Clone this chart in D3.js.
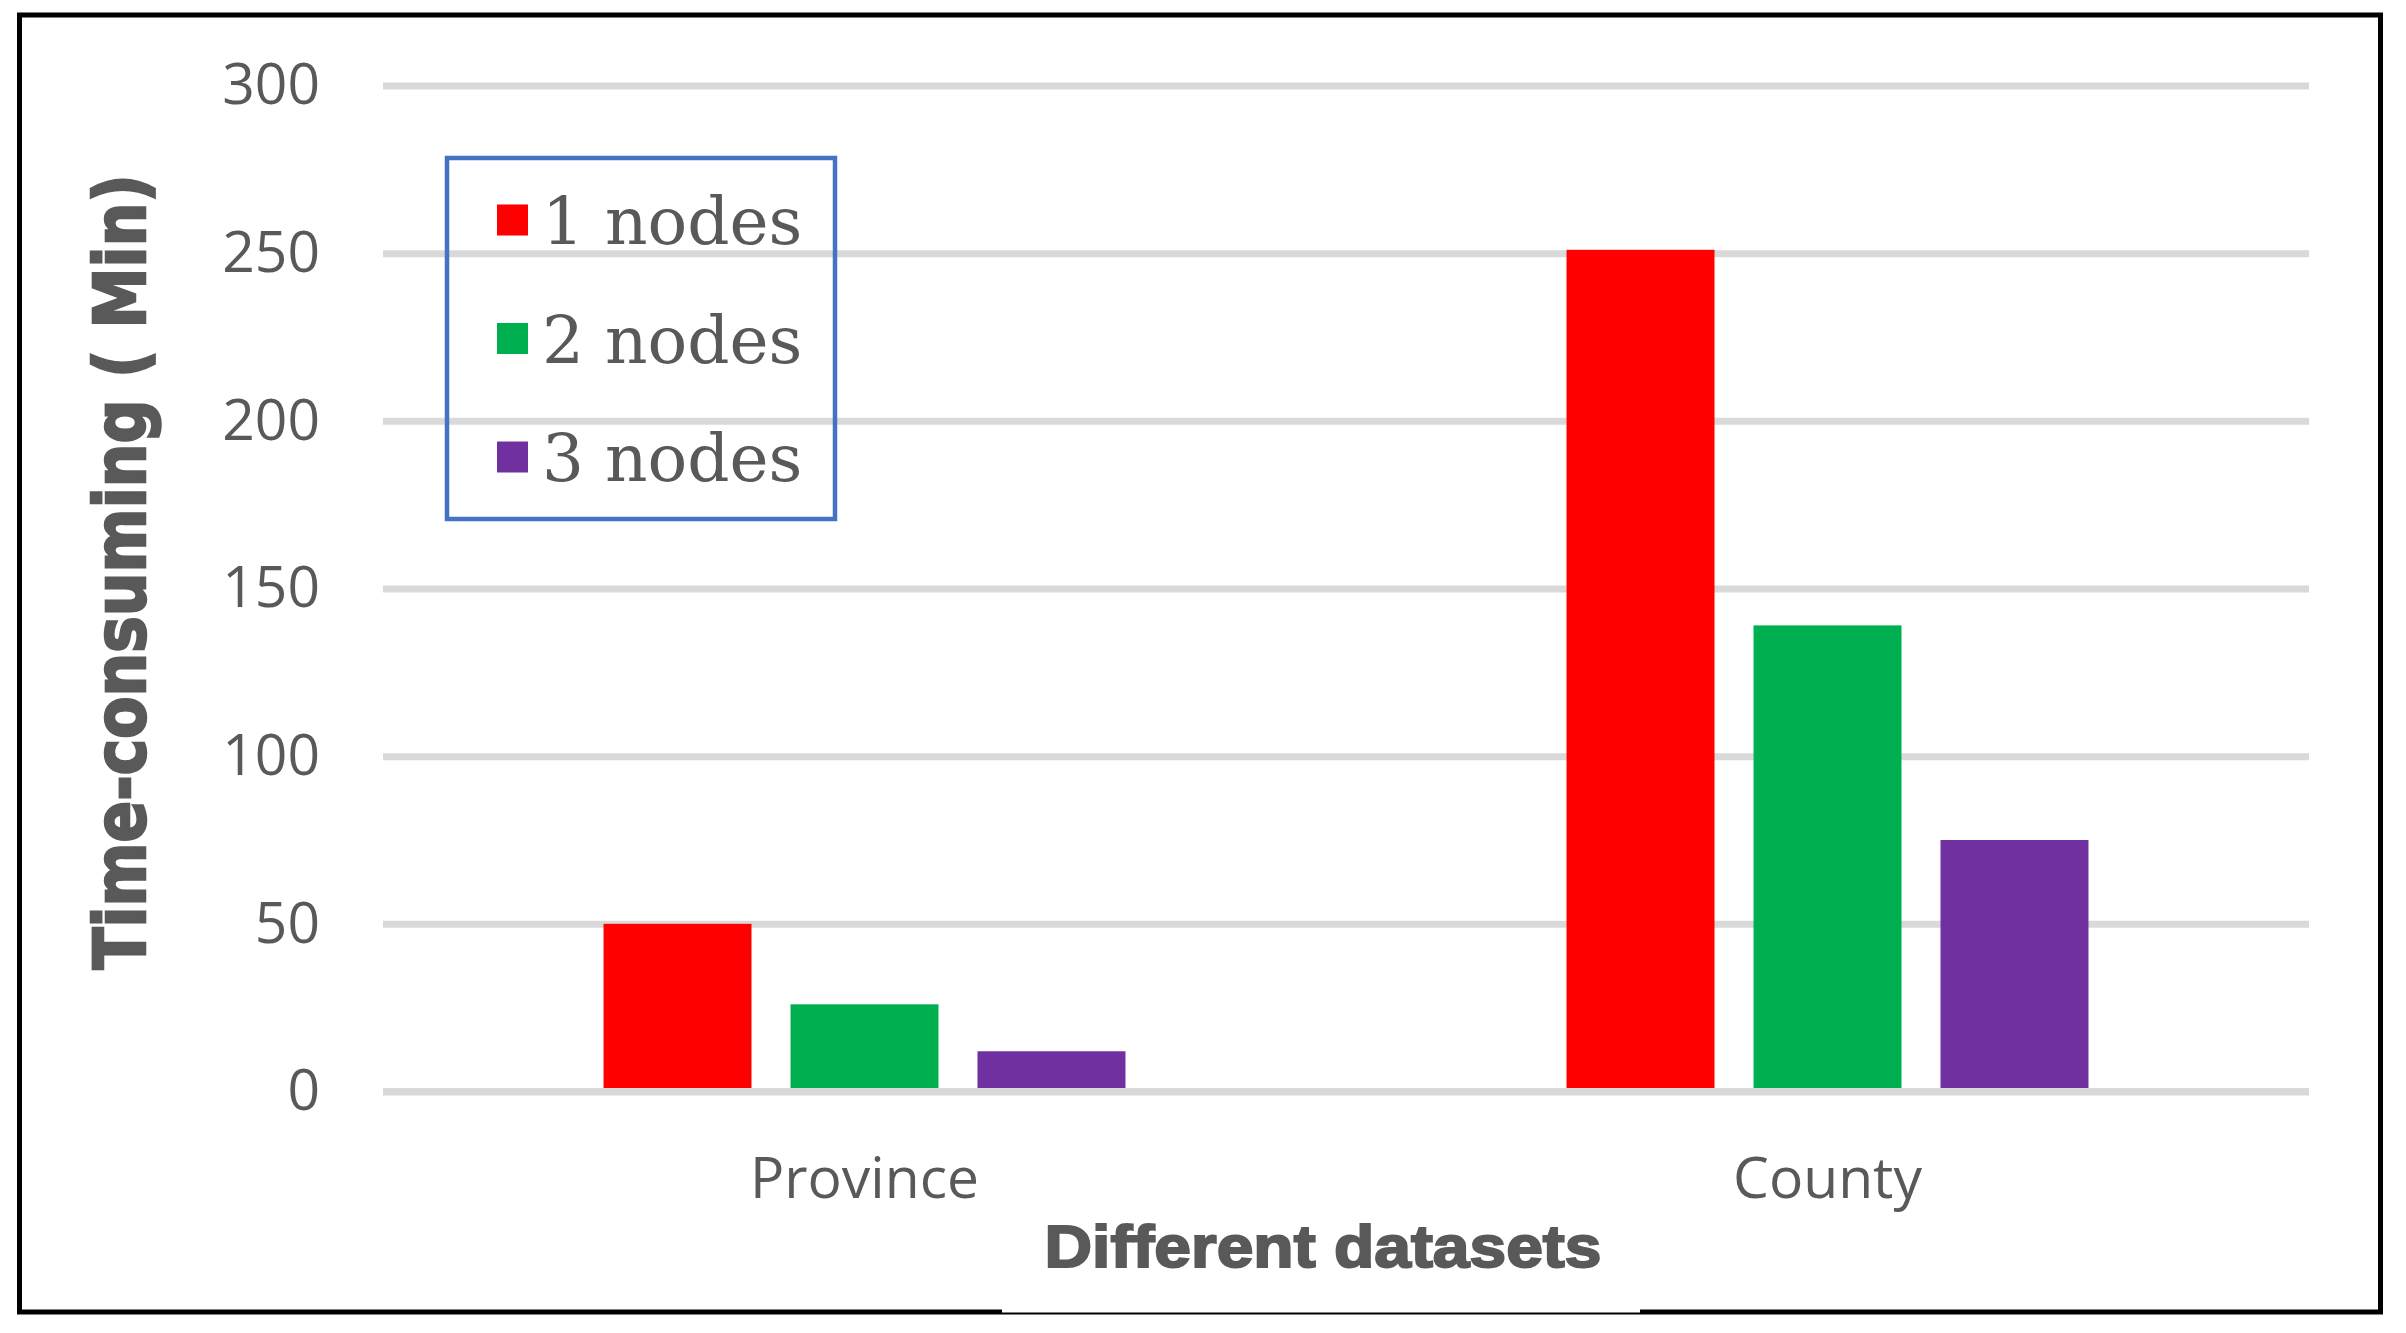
<!DOCTYPE html>
<html>
<head>
<meta charset="utf-8">
<script src="https://cdn.jsdelivr.net/npm/d3@7"></script>
<style>
  body { margin: 0; background: #fff; }
</style>
</head>
<body>
<div id="chart"></div>
<script>

// chart data
var categories = ["Province", "County"];
var seriesNames = ["1 nodes", "2 nodes", "3 nodes"];
var seriesColors = ["#ff0000", "#00b050", "#7030a0"];
var nodes1 = [50, 251];
var nodes2 = [26, 139];
var nodes3 = [12, 75];
var yTicks = [0, 50, 100, 150, 200, 250, 300];
var yTitle = "Time-consuming ( Min)";
var xTitle = "Different datasets";

BarChart = function(container){

    var self = this;

    this.container = container;
    this.series = [nodes1, nodes2, nodes3];

    this.config = {
        full_width: 2406,
        full_height: 1333,
        margin: {left: 383, right: 97, top: 85.5, bottom: 241.5},
        text_color: "#595959",
        grid_color: "#d9d9d9",
        legend_color: "#4472c4"
    };

    this._init();

};

BarChart.prototype._init = function(){

    this._build_graph();
    this._draw_all();

};

BarChart.prototype._draw_all = function(){

    this._draw_y_axis();
    this._draw_bars();
    this._draw_zero_line();
    this._draw_x_axis();
    this._draw_titles();
    this._draw_legend();

};

BarChart.prototype._build_graph = function(){

    var config = this.config;

    this.width = config.full_width - config.margin.left - config.margin.right;
    this.height = config.full_height - config.margin.top - config.margin.bottom;

    this._svg = d3.select(this.container)
        .append("svg")
        .attr("width", config.full_width)
        .attr("height", config.full_height)
        .style("display", "block");

    // frame goes in first so everything else sits on top of it
    this._draw_frame();

    this._chart = this._svg
        .append("g")
        .attr("transform", "translate(" + config.margin.left + "," + config.margin.top + ")");

    this.x0 = d3.scaleBand()
        .domain(categories)
        .range([0, this.width])
        .paddingInner(0.458)
        .paddingOuter(0.229);

    this.x1 = d3.scaleBand()
        .domain(d3.range(seriesNames.length))
        .range([0, this.x0.bandwidth()])
        .paddingInner(0.2086);

    this.y = d3.scaleLinear()
        .domain([0, 300])
        .range([this.height, 0]);

};

BarChart.prototype._draw_frame = function(){

    this._svg.append("rect")
        .attr("x", 19.5)
        .attr("y", 15)
        .attr("width", 2361)
        .attr("height", 1297)
        .style("fill", "white")
        .style("stroke", "black")
        .style("stroke-width", 5);

    // white strip that breaks the bottom border under the x title
    this._svg.append("rect")
        .attr("x", 1002)
        .attr("y", 1305)
        .attr("width", 638)
        .attr("height", 7.5)
        .style("fill", "white");

};

BarChart.prototype._draw_y_axis = function(){

    var self = this;

    var axis = d3.axisLeft(this.y)
        .tickValues(yTicks)
        .tickSize(-this.width)
        .tickPadding(63);

    var g = this._chart.append("g")
        .attr("class", "y-axis")
        .call(axis);

    g.select(".domain").remove();

    g.selectAll(".tick line")
        .style("stroke", self.config.grid_color)
        .style("stroke-width", 7);

    g.selectAll(".tick text")
        .style("font-family", "'Open Sans', sans-serif")
        .style("font-size", "57px")
        .style("fill", self.config.text_color);

};

BarChart.prototype._draw_bars = function(){

    var self = this;

    var groups = this._chart.selectAll(".group")
        .data(categories)
        .enter()
        .append("g")
        .attr("class", "group")
        .attr("transform", function(d){ return "translate(" + self.x0(d) + ",0)"; });

    groups.selectAll("rect")
        .data(function(d, i){
            return self.series.map(function(s, k){ return {k: k, v: s[i]}; });
        })
        .enter()
        .append("rect")
        .attr("x", function(d){ return self.x1(d.k); })
        .attr("y", function(d){ return self.y(d.v); })
        .attr("width", self.x1.bandwidth())
        .attr("height", function(d){ return self.y(0) - self.y(d.v); })
        .style("fill", function(d){ return seriesColors[d.k]; });

};

BarChart.prototype._draw_zero_line = function(){

    this._chart.append("line")
        .attr("x1", 0)
        .attr("x2", this.width)
        .attr("y1", this.y(0))
        .attr("y2", this.y(0))
        .style("stroke", this.config.grid_color)
        .style("stroke-width", 7);

};

BarChart.prototype._draw_x_axis = function(){

    var self = this;

    var axis = d3.axisBottom(this.x0)
        .tickSize(0)
        .tickPadding(66);

    var g = this._chart.append("g")
        .attr("class", "x-axis")
        .attr("transform", "translate(0," + this.y(0) + ")")
        .call(axis);

    g.select(".domain").remove();

    g.selectAll(".tick text")
        .style("font-family", "'Open Sans', sans-serif")
        .style("font-size", "57px")
        .style("fill", self.config.text_color);

};

BarChart.prototype._draw_titles = function(){

    var cs = this.config;

    // the titles in the source are a heavy black weight, thicken with a stroke
    this._svg.append("text")
        .attr("transform", "translate(145,572) rotate(-90)")
        .attr("text-anchor", "middle")
        .attr("textLength", 795)
        .attr("lengthAdjust", "spacingAndGlyphs")
        .style("font-family", "'DejaVu Sans', sans-serif")
        .style("font-weight", "bold")
        .style("font-size", "71px")
        .style("fill", cs.text_color)
        .style("stroke", cs.text_color)
        .style("stroke-width", 2.5)
        .text(yTitle);

    this._svg.append("text")
        .attr("x", 1323)
        .attr("y", 1267)
        .attr("text-anchor", "middle")
        .attr("textLength", 557)
        .attr("lengthAdjust", "spacingAndGlyphs")
        .style("font-family", "'Liberation Sans', Arial, sans-serif")
        .style("font-weight", "bold")
        .style("font-size", "60px")
        .style("fill", cs.text_color)
        .style("stroke", cs.text_color)
        .style("stroke-width", 2)
        .text(xTitle);

};

BarChart.prototype._draw_legend = function(){

    var cs = this.config;

    var legend = this._svg.append("g")
        .attr("class", "legend");

    legend.append("rect")
        .attr("x", 447)
        .attr("y", 158)
        .attr("width", 388)
        .attr("height", 361)
        .style("fill", "none")
        .style("stroke", cs.legend_color)
        .style("stroke-width", 4.5);

    var items = legend.selectAll(".item")
        .data(seriesNames)
        .enter()
        .append("g")
        .attr("class", "item")
        .attr("transform", function(d, i){ return "translate(497," + (220 + i * 118.5) + ")"; });

    items.append("rect")
        .attr("x", 0)
        .attr("y", -15.5)
        .attr("width", 31)
        .attr("height", 31)
        .style("fill", function(d, i){ return seriesColors[i]; });

    items.append("text")
        .attr("x", 45)
        .attr("y", 24)
        .style("font-family", "'DejaVu Serif', serif")
        .style("font-size", "66px")
        .style("fill", cs.text_color)
        .text(function(d){ return d; });

};

new BarChart("#chart");

</script>
</body>
</html>
